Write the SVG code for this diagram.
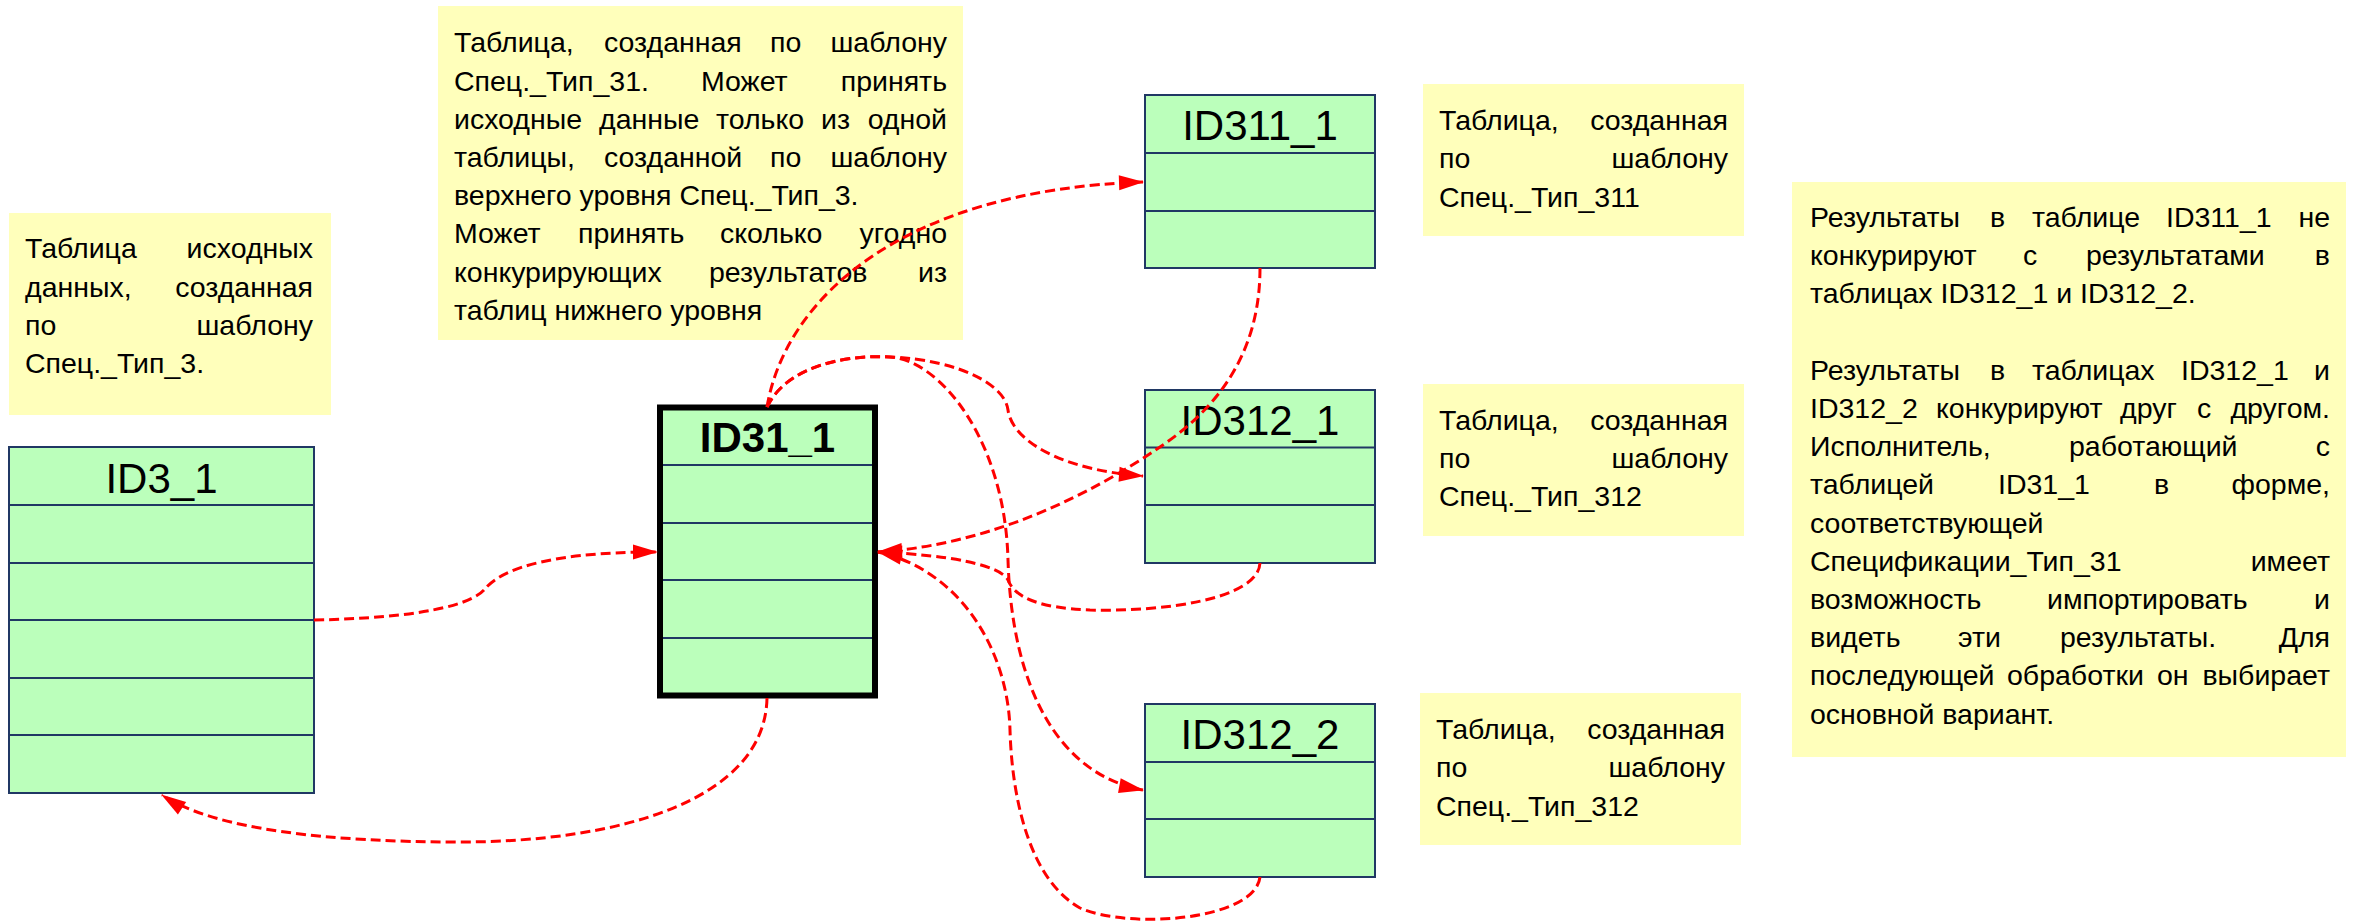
<svg xmlns="http://www.w3.org/2000/svg" width="2361" height="924" viewBox="0 0 2361 924">
<style>
.bg{fill:#FFFFFF}
.note{fill:#FFFFBB}
.tbl{fill:#BBFFBB;stroke:#203864;stroke-width:2}
.tblm{fill:#BBFFBB;stroke:#000000;stroke-width:6}
.row{stroke:#203864;stroke-width:2}
.t{font-family:"Liberation Sans",Arial,sans-serif;font-size:28.5px;fill:#000000}
.e{text-anchor:end}
.h{font-family:"Liberation Sans",Arial,sans-serif;font-size:42px;text-anchor:middle;fill:#000000}
.hb{font-weight:bold}
.c{fill:none;stroke:#FF0000;stroke-width:3;stroke-dasharray:10 5;marker-end:url(#ah)}
</style>
<defs>
<marker id="ah" markerUnits="userSpaceOnUse" markerWidth="28" markerHeight="18" refX="24" refY="7.5" orient="auto" overflow="visible">
<path d="M0,0 L25,7.5 L0,15 Z" fill="#FF0000"/>
</marker>
</defs>
<rect class="bg" x="0" y="0" width="2361" height="924"/>

<!-- description notes -->
<g id="note-id3">
<rect class="note" x="9" y="213" width="322" height="202"/>
<text class="t" y="258"><tspan x="25">Таблица</tspan><tspan class="e" x="313">исходных</tspan></text>
<text class="t" y="296.5"><tspan x="25">данных,</tspan><tspan class="e" x="313">созданная</tspan></text>
<text class="t" y="334.5"><tspan x="25">по</tspan><tspan class="e" x="313">шаблону</tspan></text>
<text class="t" y="372.5"><tspan x="25">Спец._Тип_3.</tspan></text>
</g>

<g id="note-id31">
<rect class="note" x="438" y="6" width="525" height="334"/>
<text class="t" y="52"><tspan x="454">Таблица,</tspan><tspan x="604">созданная</tspan><tspan x="770">по</tspan><tspan class="e" x="947">шаблону</tspan></text>
<text class="t" y="90.5"><tspan x="454">Спец._Тип_31.</tspan><tspan x="701">Может</tspan><tspan class="e" x="947">принять</tspan></text>
<text class="t" y="129"><tspan x="454">исходные</tspan><tspan x="599">данные</tspan><tspan x="716">только</tspan><tspan x="821">из</tspan><tspan class="e" x="947">одной</tspan></text>
<text class="t" y="167"><tspan x="454">таблицы,</tspan><tspan x="604">созданной</tspan><tspan x="770">по</tspan><tspan class="e" x="947">шаблону</tspan></text>
<text class="t" y="205"><tspan x="454">верхнего уровня Спец._Тип_3.</tspan></text>
<text class="t" y="243"><tspan x="454">Может</tspan><tspan x="578">принять</tspan><tspan x="720">сколько</tspan><tspan class="e" x="947">угодно</tspan></text>
<text class="t" y="282"><tspan x="454">конкурирующих</tspan><tspan x="709">результатов</tspan><tspan class="e" x="947">из</tspan></text>
<text class="t" y="320"><tspan x="454">таблиц нижнего уровня</tspan></text>
</g>

<g id="note-id311">
<rect class="note" x="1423" y="84" width="321" height="152"/>
<text class="t" y="130"><tspan x="1439">Таблица,</tspan><tspan class="e" x="1728">созданная</tspan></text>
<text class="t" y="168"><tspan x="1439">по</tspan><tspan class="e" x="1728">шаблону</tspan></text>
<text class="t" y="206.5"><tspan x="1439">Спец._Тип_311</tspan></text>
</g>

<g id="note-id312-1">
<rect class="note" x="1423" y="384" width="321" height="152"/>
<text class="t" y="430"><tspan x="1439">Таблица,</tspan><tspan class="e" x="1728">созданная</tspan></text>
<text class="t" y="468"><tspan x="1439">по</tspan><tspan class="e" x="1728">шаблону</tspan></text>
<text class="t" y="506"><tspan x="1439">Спец._Тип_312</tspan></text>
</g>

<g id="note-id312-2">
<rect class="note" x="1420" y="693" width="321" height="152"/>
<text class="t" y="739"><tspan x="1436">Таблица,</tspan><tspan class="e" x="1725">созданная</tspan></text>
<text class="t" y="777"><tspan x="1436">по</tspan><tspan class="e" x="1725">шаблону</tspan></text>
<text class="t" y="815.5"><tspan x="1436">Спец._Тип_312</tspan></text>
</g>

<g id="note-results">
<rect class="note" x="1792" y="182" width="554" height="575"/>
<text class="t" y="227"><tspan x="1810">Результаты</tspan><tspan x="1990">в</tspan><tspan x="2032">таблице</tspan><tspan x="2166">ID311_1</tspan><tspan class="e" x="2330">не</tspan></text>
<text class="t" y="265.2"><tspan x="1810">конкурируют</tspan><tspan x="2023">с</tspan><tspan x="2086">результатами</tspan><tspan class="e" x="2330">в</tspan></text>
<text class="t" y="303.4"><tspan x="1810">таблицах ID312_1 и ID312_2.</tspan></text>
<text class="t" y="379.8"><tspan x="1810">Результаты</tspan><tspan x="1990">в</tspan><tspan x="2032">таблицах</tspan><tspan x="2181">ID312_1</tspan><tspan class="e" x="2330">и</tspan></text>
<text class="t" y="418"><tspan x="1810">ID312_2</tspan><tspan x="1936">конкурируют</tspan><tspan x="2120">друг</tspan><tspan x="2197">с</tspan><tspan class="e" x="2330">другом.</tspan></text>
<text class="t" y="456.2"><tspan x="1810">Исполнитель,</tspan><tspan x="2069">работающий</tspan><tspan class="e" x="2330">с</tspan></text>
<text class="t" y="494.4"><tspan x="1810">таблицей</tspan><tspan x="1998">ID31_1</tspan><tspan x="2154">в</tspan><tspan class="e" x="2330">форме,</tspan></text>
<text class="t" y="532.6"><tspan x="1810">соответствующей</tspan></text>
<text class="t" y="570.8"><tspan x="1810">Спецификации_Тип_31</tspan><tspan class="e" x="2330">имеет</tspan></text>
<text class="t" y="609"><tspan x="1810">возможность</tspan><tspan x="2047">импортировать</tspan><tspan class="e" x="2330">и</tspan></text>
<text class="t" y="647.2"><tspan x="1810">видеть</tspan><tspan x="1958">эти</tspan><tspan x="2060">результаты.</tspan><tspan class="e" x="2330">Для</tspan></text>
<text class="t" y="685.4"><tspan x="1810">последующей</tspan><tspan x="2007">обработки</tspan><tspan x="2157">он</tspan><tspan class="e" x="2330">выбирает</tspan></text>
<text class="t" y="723.6"><tspan x="1810">основной вариант.</tspan></text>
</g>

<!-- tables -->
<g id="ID3_1">
<rect class="tbl" x="9" y="447" width="305" height="346"/>
<line class="row" x1="9" y1="505" x2="314" y2="505"/>
<line class="row" x1="9" y1="563" x2="314" y2="563"/>
<line class="row" x1="9" y1="620" x2="314" y2="620"/>
<line class="row" x1="9" y1="678" x2="314" y2="678"/>
<line class="row" x1="9" y1="735" x2="314" y2="735"/>
<text class="h" x="161.5" y="493">ID3_1</text>
</g>

<g id="ID31_1">
<rect class="tblm" x="660" y="407.5" width="215" height="288"/>
<line class="row" x1="663" y1="465" x2="872" y2="465"/>
<line class="row" x1="663" y1="523" x2="872" y2="523"/>
<line class="row" x1="663" y1="580" x2="872" y2="580"/>
<line class="row" x1="663" y1="638" x2="872" y2="638"/>
<text class="h hb" x="767.5" y="452">ID31_1</text>
</g>

<g id="ID311_1">
<rect class="tbl" x="1145" y="95" width="230" height="173"/>
<line class="row" x1="1145" y1="153" x2="1375" y2="153"/>
<line class="row" x1="1145" y1="211" x2="1375" y2="211"/>
<text class="h" x="1260" y="140">ID311_1</text>
</g>

<g id="ID312_1">
<rect class="tbl" x="1145" y="390" width="230" height="173"/>
<line class="row" x1="1145" y1="447.5" x2="1375" y2="447.5"/>
<line class="row" x1="1145" y1="505" x2="1375" y2="505"/>
<text class="h" x="1260" y="435">ID312_1</text>
</g>

<g id="ID312_2">
<rect class="tbl" x="1145" y="704" width="230" height="173"/>
<line class="row" x1="1145" y1="762" x2="1375" y2="762"/>
<line class="row" x1="1145" y1="819" x2="1375" y2="819"/>
<text class="h" x="1260" y="749">ID312_2</text>
</g>

<!-- connectors -->
<g id="connectors">
<path class="c" d="M314,620 C420,618 470,605 484,590 C498,572 540,552 657,552"/>
<path class="c" d="M767,698 C765,800 620,842 460,842 C330,842 215,830 162,795"/>
<path class="c" d="M767,407 C785,300 900,190 1143,182"/>
<path class="c" d="M767,407 C790,360 860,355 890,357 C960,360 1005,385 1008,410 C1012,440 1060,470 1143,476"/>
<path class="c" d="M767,407 C790,360 860,355 890,357 C940,360 1005,440 1008,560 C1012,690 1060,775 1143,790"/>
<path class="c" d="M1260,563 C1258,600 1160,612 1090,610 C1040,608 1015,598 1008,580 C1000,565 950,555 878,552"/>
<path class="c" d="M1260,268 C1260,340 1230,400 1160,447 C1090,495 990,545 878,552"/>
<path class="c" d="M1260,877 C1255,920 1130,930 1080,908 C1030,880 1012,800 1010,730 C1008,650 960,570 878,552"/>
</g>
</svg>
